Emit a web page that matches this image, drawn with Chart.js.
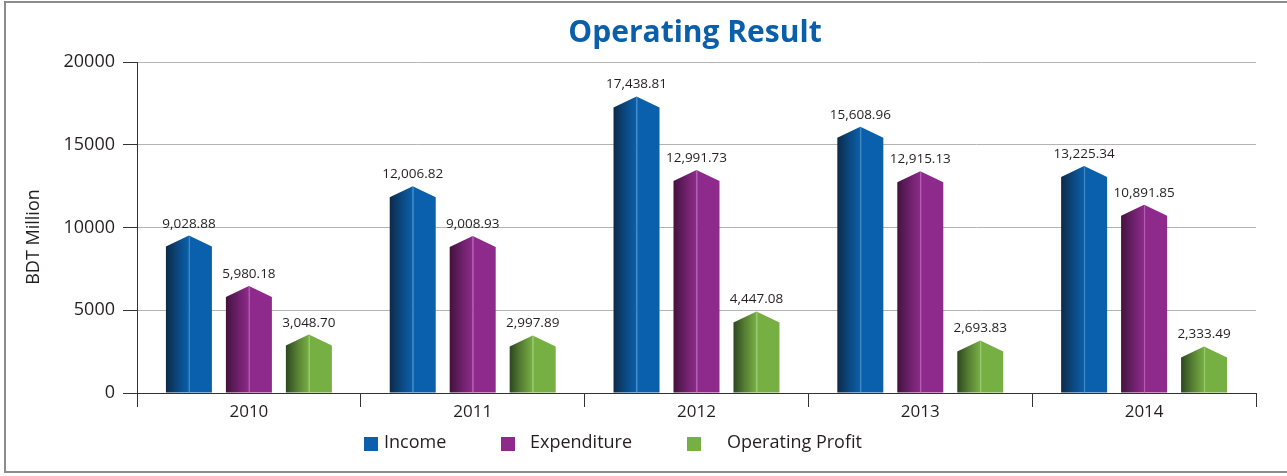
<!DOCTYPE html>
<html>
<head>
<meta charset="utf-8">
<title>Operating Result</title>
<script src="https://cdn.jsdelivr.net/npm/chart.js@4.4.1/dist/chart.umd.min.js"></script>
<style>
  html, body { margin: 0; padding: 0; background: #fff; }
  #wrap { width: 1287px; height: 476px; }
</style>
</head>
<body>
<div id="wrap"><canvas id="chart" width="1287" height="476"></canvas></div>
<script>
const years = ["2010", "2011", "2012", "2013", "2014"];
const income = [9028.88, 12006.82, 17438.81, 15608.96, 13225.34];
const expenditure = [5980.18, 9008.93, 12991.73, 12915.13, 10891.85];
const operatingProfit = [3048.70, 2997.89, 4447.08, 2693.83, 2333.49];
const seriesNames = ["Income", "Expenditure", "Operating Profit"];
const yTicks = [0, 5000, 10000, 15000, 20000];

const styles = [
  { main: "#0a60ac", mid: "#0b477f", dark: "#0d2a48", light: "#4a8cc8" },
  { main: "#8e2a8b", mid: "#6a1f67", dark: "#43123e", light: "#b563b2" },
  { main: "#77b042", mid: "#577f33", dark: "#2d4720", light: "#9dcc74" },
];

const FONT = "'Open Sans', 'DejaVu Sans', sans-serif";
const textColor = "#231f20";

function fmt(v) {
  return v.toLocaleString("en-US", { minimumFractionDigits: 2, maximumFractionDigits: 2 });
}

// pointed "prism" bars drawn on top of the library's bar elements
const prismBars = {
  id: "prismBars",
  afterDatasetsDraw(chart) {
    const ctx = chart.ctx;
    chart.data.datasets.forEach((ds, di) => {
      const st = styles[di];
      chart.getDatasetMeta(di).data.forEach((bar, i) => {
        const half = bar.width / 2;
        const xl = bar.x - half;
        const xr = bar.x + half;
        const peak = bar.y - 8;
        const shoulder = bar.y + 3;
        const base = bar.base;

        const g = ctx.createLinearGradient(xl, 0, bar.x, 0);
        g.addColorStop(0, st.dark);
        g.addColorStop(0.5, st.mid);
        g.addColorStop(1, st.main);
        ctx.fillStyle = g;
        ctx.beginPath();
        ctx.moveTo(xl, base);
        ctx.lineTo(xl, shoulder);
        ctx.lineTo(bar.x, peak);
        ctx.lineTo(bar.x, base);
        ctx.closePath();
        ctx.fill();

        ctx.fillStyle = st.main;
        ctx.beginPath();
        ctx.moveTo(bar.x, base);
        ctx.lineTo(bar.x, peak);
        ctx.lineTo(xr, shoulder);
        ctx.lineTo(xr, base);
        ctx.closePath();
        ctx.fill();

        ctx.strokeStyle = st.light;
        ctx.lineWidth = 1;
        ctx.beginPath();
        ctx.moveTo(bar.x + 0.5, peak + 1);
        ctx.lineTo(bar.x + 0.5, base);
        ctx.stroke();

        ctx.fillStyle = textColor;
        ctx.font = "13.5px " + FONT;
        ctx.textAlign = "center";
        ctx.textBaseline = "alphabetic";
        ctx.fillText(fmt(ds.data[i]), bar.x, peak - 8);
      });
    });
  },
};

// frame, title, axis title and legend
const decorations = {
  id: "decorations",
  beforeDraw(chart) {
    const ctx = chart.ctx;
    ctx.save();
    ctx.fillStyle = "#fff";
    ctx.fillRect(0, 0, chart.width, chart.height);
    ctx.strokeStyle = "#8c8c8c";
    ctx.lineWidth = 2;
    ctx.strokeRect(5, 2, 1300, 470);
    ctx.restore();
  },
  afterDraw(chart) {
    const ctx = chart.ctx;
    ctx.save();
    ctx.fillStyle = "#0a5fab";
    ctx.font = "bold 30px " + FONT;
    ctx.textAlign = "center";
    ctx.textBaseline = "middle";
    ctx.fillText("Operating Result", 695, 33);

    ctx.save();
    ctx.translate(34, 237);
    ctx.rotate(-Math.PI / 2);
    ctx.fillStyle = textColor;
    ctx.font = "18px " + FONT;
    ctx.fillText("BDT Million", 0, 0);
    ctx.restore();

    const boxX = [364, 501, 687];
    const textX = [384, 530, 727];
    ctx.font = "18px " + FONT;
    ctx.textAlign = "left";
    seriesNames.forEach((name, i) => {
      ctx.fillStyle = styles[i].main;
      ctx.fillRect(boxX[i], 437, 14, 14);
      ctx.fillStyle = textColor;
      ctx.fillText(name, textX[i], 443);
    });
    ctx.restore();
  },
};

new Chart(document.getElementById("chart"), {
  type: "bar",
  data: {
    labels: years,
    datasets: [income, expenditure, operatingProfit].map((values, i) => ({
      label: seriesNames[i],
      data: values,
      backgroundColor: "rgba(0,0,0,0)",
      borderWidth: 0,
      categoryPercentage: 0.804,
      barPercentage: 0.767,
    })),
  },
  options: {
    responsive: false,
    devicePixelRatio: 1,
    animation: false,
    events: [],
    layout: { padding: { left: 0, right: 31, top: 62, bottom: 0 } },
    plugins: {
      legend: { display: false },
      title: { display: false },
      tooltip: { enabled: false },
    },
    scales: {
      x: {
        grid: { drawOnChartArea: false, drawTicks: true, tickLength: 14, tickColor: "#333", offset: true },
        border: { color: "#333", width: 1 },
        ticks: { color: textColor, font: { family: FONT, size: 17 }, padding: -5 },
        afterFit(scale) { scale.height = 83; },
      },
      y: {
        min: 0,
        max: 20000,
        afterBuildTicks(scale) { scale.ticks = yTicks.map((v) => ({ value: v })); },
        grid: { color: "#b4b4b4", tickLength: 14, tickColor: "#333", lineWidth: 1 },
        border: { color: "#333", width: 1 },
        ticks: {
          color: textColor,
          font: { family: FONT, size: 18 },
          padding: 8,
          callback: (v) => String(v),
        },
        afterFit(scale) { scale.width = 137; },
      },
    },
  },
  plugins: [decorations, prismBars],
});
</script>
</body>
</html>
